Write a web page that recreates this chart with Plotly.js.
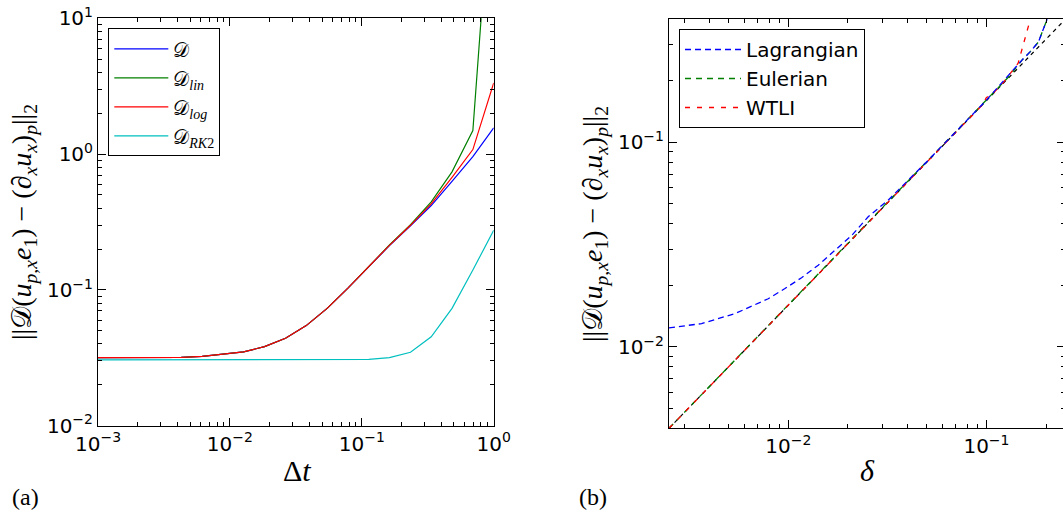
<!DOCTYPE html>
<html><head><meta charset="utf-8">
<script src="https://cdn.plot.ly/plotly-3.0.1.min.js"></script>
<style>html,body{margin:0;padding:0;overflow:hidden;background:#fff}#chart{width:1068px;height:516px}</style>
</head><body><div id="chart"></div>
<script>
// ---- panel (a) data ----
const dt = [0.001, 0.00144, 0.00207, 0.00298, 0.00428, 0.00616, 0.00886, 0.0127, 0.0183, 0.0264,
            0.0379, 0.0546, 0.0785, 0.113, 0.162, 0.234, 0.336, 0.483, 0.695, 1.0];
const errD    = [0.0317, 0.0317, 0.0318, 0.0318, 0.0319, 0.0324, 0.0336, 0.0350, 0.0382, 0.0441,
                 0.0546, 0.0731, 0.103, 0.148, 0.212, 0.296, 0.418, 0.630, 0.957, 1.56];
const errLin  = [0.0317, 0.0317, 0.0318, 0.0318, 0.0319, 0.0324, 0.0336, 0.0350, 0.0382, 0.0441,
                 0.0546, 0.0731, 0.103, 0.148, 0.214, 0.302, 0.445, 0.740, 1.49, 180];
const errLog  = [0.0317, 0.0317, 0.0318, 0.0318, 0.0319, 0.0324, 0.0336, 0.0350, 0.0382, 0.0441,
                 0.0546, 0.0731, 0.103, 0.148, 0.213, 0.299, 0.430, 0.675, 1.08, 3.34];
const errRK2  = [0.0305, 0.0305, 0.0305, 0.0305, 0.0305, 0.0305, 0.0305, 0.0305, 0.0305, 0.0305,
                 0.0305, 0.0305, 0.0306, 0.0308, 0.0317, 0.0347, 0.0452, 0.0731, 0.140, 0.275];
const namesA = ['𝒟', '𝒟<sub><i>lin</i></sub>', '𝒟<sub><i>log</i></sub>', '𝒟<sub><i>RK</i>2</sub>'];

// ---- panel (b) data ----
const lagDelta = [0.0025, 0.00365, 0.00539, 0.00792, 0.00962, 0.01167, 0.01416, 0.0172, 0.0209, 0.0253,
                  0.0296, 0.0319, 0.05, 0.1, 0.1507, 0.166, 0.183, 0.2017, 0.21];
const lagErr   = [0.0124, 0.0130, 0.01456, 0.0172, 0.0193, 0.0218, 0.0251, 0.0297, 0.0351, 0.0433,
                  0.0493, 0.0522, 0.0805, 0.161, 0.252, 0.277, 0.310, 0.397, 0.46];
const eulDelta = [0.0025, 0.005, 0.01, 0.02, 0.05, 0.1, 0.13, 0.1507, 0.166, 0.183, 0.2017, 0.21];
const eulErr   = [0.0040, 0.0080, 0.0160, 0.0320, 0.080, 0.160, 0.210, 0.252, 0.277, 0.310, 0.397, 0.46];
const wtliDelta = [0.0025, 0.005, 0.01, 0.02, 0.05, 0.095, 0.1, 0.105, 0.12, 0.1445, 0.17];
const wtliErr   = [0.0040, 0.0080, 0.0160, 0.0320, 0.080, 0.152, 0.166, 0.169, 0.193, 0.244, 0.43];
const refDelta = [0.0025, 0.25];
const refErr   = [0.0040, 0.40];
const namesB = ['Lagrangian', 'Eulerian', 'WTLI'];

// ---- tick labels ----
const aXTickVals = [0.001, 0.01, 0.1, 1];
const aXTickText = ['10<sup>−3</sup>', '10<sup>−2</sup>', '10<sup>−1</sup>', '10<sup>0</sup>'];
const aYTickVals = [0.01, 0.1, 1, 10];
const aYTickText = ['10<sup>−2</sup>', '10<sup>−1</sup>', '10<sup>0</sup>', '10<sup>1</sup>'];
const bXTickVals = [0.01, 0.1];
const bXTickText = ['10<sup>−2</sup>', '10<sup>−1</sup>'];
const bYTickVals = [0.01, 0.1];
const bYTickText = ['10<sup>−2</sup>', '10<sup>−1</sup>'];

function minorTicks(lo, hi) {
  const out = [];
  for (let e = lo; e <= hi; e++) for (let m = 2; m <= 9; m++) out.push(m * Math.pow(10, e));
  return out;
}

const W = 1068, H = 516;
const px = v => v / W;
const py = v => (H - v) / H;

const serif = 'Liberation Serif, DejaVu Serif, serif';
const sans = 'DejaVu Sans, sans-serif';

function axis(extra) {
  return Object.assign({
    type: 'log', showline: true, linecolor: '#000', linewidth: 1, mirror: 'ticks',
    ticks: 'inside', ticklen: 8, tickwidth: 1, tickcolor: '#000',
    showgrid: false, zeroline: false, tickmode: 'array',
    tickfont: {family: sans, size: 20, color: '#000'}
  }, extra);
}
function minor(lo, hi) {
  return {tickmode: 'array', tickvals: minorTicks(lo, hi), ticklen: 4, tickwidth: 1,
          tickcolor: '#000', ticks: 'inside', showgrid: false};
}

const lw = 1.2;
const dlw = 1.3;
const traces = [
  {x: dt, y: errD,   name: namesA[0], mode: 'lines', line: {color: '#0000ff', width: lw}, xaxis: 'x', yaxis: 'y', legend: 'legend'},
  {x: dt, y: errLin, name: namesA[1], mode: 'lines', line: {color: '#008000', width: lw}, xaxis: 'x', yaxis: 'y', legend: 'legend'},
  {x: dt, y: errLog, name: namesA[2], mode: 'lines', line: {color: '#ff0000', width: lw}, xaxis: 'x', yaxis: 'y', legend: 'legend'},
  {x: dt, y: errRK2, name: namesA[3], mode: 'lines', line: {color: '#00bfbf', width: lw}, xaxis: 'x', yaxis: 'y', legend: 'legend'},
  {x: refDelta, y: refErr, name: 'ref', showlegend: false, legend: 'legend2', mode: 'lines', line: {color: '#000000', width: lw, dash: '4px,4px'}, xaxis: 'x2', yaxis: 'y2'},
  {x: eulDelta, y: eulErr, name: namesB[1], mode: 'lines', line: {color: '#008000', width: dlw, dash: '6px,5px'}, xaxis: 'x2', yaxis: 'y2', legend: 'legend2', legendrank: 2},
  {x: wtliDelta, y: wtliErr, name: namesB[2], mode: 'lines', line: {color: '#ff0000', width: dlw, dash: '5px,7px'}, xaxis: 'x2', yaxis: 'y2', legend: 'legend2', legendrank: 3},
  {x: lagDelta, y: lagErr, name: namesB[0], mode: 'lines', line: {color: '#0000ff', width: dlw, dash: '6px,4px'}, xaxis: 'x2', yaxis: 'y2', legend: 'legend2', legendrank: 1}
];

const yTitle = '||𝒟(<i>u</i><sub><i>p,x</i></sub><i>e</i><sub>1</sub>) − (∂<sub><i>x</i></sub><i>u</i><sub><i>x</i></sub>)<sub><i>p</i></sub>||<sub>2</sub>';

const layout = {
  width: W, height: H,
  margin: {l: 0, r: 0, t: 0, b: 0},
  paper_bgcolor: '#fff', plot_bgcolor: '#fff',
  xaxis: axis({domain: [px(98), px(493.7)], range: [-3, 0], tickvals: aXTickVals, ticktext: aXTickText, minor: minor(-3, -1), anchor: 'y'}),
  yaxis: axis({domain: [py(425.7), py(18.3)], range: [-2, 1], tickvals: aYTickVals, ticktext: aYTickText, minor: minor(-2, 0), anchor: 'x'}),
  xaxis2: axis({domain: [px(669), px(1065.3)], range: [Math.log10(0.0025), Math.log10(0.25)], tickvals: bXTickVals, ticktext: bXTickText, minor: minor(-3, -1), anchor: 'y2'}),
  yaxis2: axis({domain: [py(428.3), py(19.3)], range: [Math.log10(0.004), Math.log10(0.4)], tickvals: bYTickVals, ticktext: bYTickText, minor: minor(-3, -1), anchor: 'x2'}),
  legend: {x: px(108.3), y: py(28.3), xanchor: 'left', yanchor: 'top', bgcolor: '#fff', bordercolor: '#000', borderwidth: 1,
           font: {family: serif, size: 20, color: '#000'}, itemwidth: 54, traceorder: 'normal'},
  legend2: {x: px(679), y: py(29), xanchor: 'left', yanchor: 'top', bgcolor: '#fff', bordercolor: '#000', borderwidth: 1,
            font: {family: sans, size: 20, color: '#000'}, itemwidth: 56, traceorder: 'normal'},
  annotations: [
    {text: yTitle, xref: 'paper', yref: 'paper', x: px(23), y: py(222), textangle: -90, showarrow: false, xanchor: 'center', yanchor: 'middle', font: {family: serif, size: 28, color: '#000'}},
    {text: yTitle, xref: 'paper', yref: 'paper', x: px(594), y: py(224), textangle: -90, showarrow: false, xanchor: 'center', yanchor: 'middle', font: {family: serif, size: 28, color: '#000'}},
    {text: 'Δ<i>t</i>', xref: 'paper', yref: 'paper', x: px(297), y: py(470), showarrow: false, xanchor: 'center', yanchor: 'middle', font: {family: serif, size: 30, color: '#000'}},
    {text: '<i>δ</i>', xref: 'paper', yref: 'paper', x: px(867), y: py(470), showarrow: false, xanchor: 'center', yanchor: 'middle', font: {family: serif, size: 30, color: '#000'}},
    {text: '(a)', xref: 'paper', yref: 'paper', x: px(25), y: py(497), showarrow: false, xanchor: 'center', yanchor: 'middle', font: {family: serif, size: 24, color: '#000'}},
    {text: '(b)', xref: 'paper', yref: 'paper', x: px(593), y: py(497), showarrow: false, xanchor: 'center', yanchor: 'middle', font: {family: serif, size: 24, color: '#000'}}
  ]
};

Plotly.newPlot('chart', traces, layout, {staticPlot: true, displayModeBar: false});
</script>
</body></html>
